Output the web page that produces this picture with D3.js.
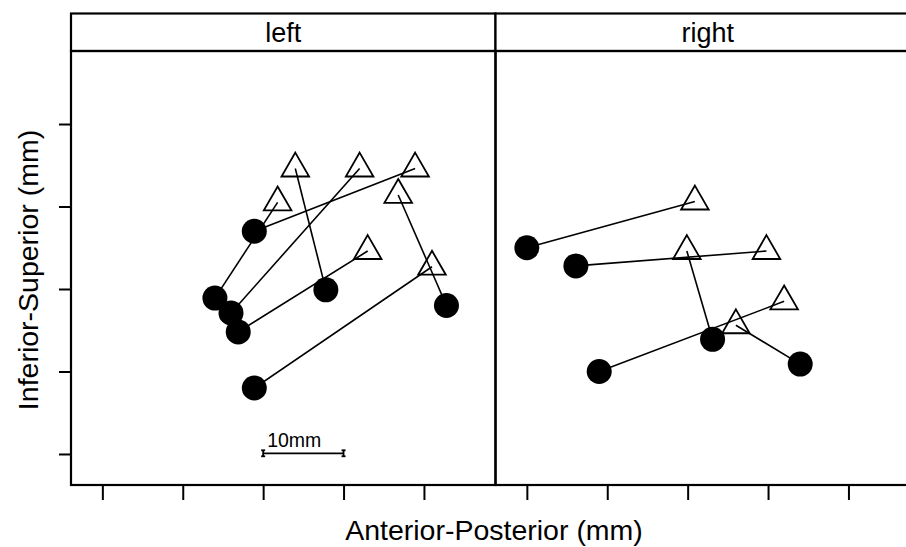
<!DOCTYPE html>
<html>
<head>
<meta charset="utf-8">
<script src="https://cdn.jsdelivr.net/npm/d3@7"></script>
<style>
  body { margin: 0; background: #fff; }
  svg { display: block; font-family: "Liberation Sans", Arial, sans-serif; }
</style>
</head>
<body>
<svg id="chart"></svg>
<script>
// panels
const sides = ["left", "right"];

// start points (filled circles), mm
const leftStartAP = [18.9, 14.0, 16.0, 16.9, 27.8, 42.8, 18.9];
const leftStartIS = [27.0, 18.9, 17.1, 14.8, 19.9, 18.0, 8.0];
// end points (open triangles), mm
const leftEndAP = [38.9, 21.8, 32.0, 33.0, 24.0, 36.8, 41.0];
const leftEndIS = [34.6, 30.5, 34.6, 24.6, 34.6, 31.4, 22.7];

const rightStartAP = [0.0, 6.1, 9.0, 23.1, 34.0];
const rightStartIS = [25.0, 22.8, 10.0, 13.9, 10.9];
const rightEndAP = [20.9, 29.8, 32.0, 19.9, 26.0];
const rightEndIS = [30.6, 24.6, 18.5, 24.6, 15.6];

const xTicks = [0, 10, 20, 30, 40];
const yTicks = [0, 10, 20, 30, 40];

const svgWidth = 906, svgHeight = 547;
const panelLeft = 71, panelW = 424.5;
const stripTop = 13.5, panelTop = 51, panelBottom = 485;

const svg = d3.select("#chart")
  .attr("width", svgWidth)
  .attr("height", svgHeight);

const xScale = d3.scaleLinear().domain([-3.9, 48.9]).range([0, panelW]);
const yScale = d3.scaleLinear().domain([-3.76, 48.85]).range([panelBottom, panelTop]);

const tri = d3.symbol().type(d3.symbolTriangle).size(330);

const panelData = {
  left: { sx: leftStartAP, sy: leftStartIS, ex: leftEndAP, ey: leftEndIS },
  right: { sx: rightStartAP, sy: rightStartIS, ex: rightEndAP, ey: rightEndIS }
};

sides.forEach((side, i) => {
  const x0 = panelLeft + i * panelW;
  const g = svg.append("g").attr("transform", `translate(${x0},0)`);
  const d = panelData[side];
  const pairs = d.sx.map((v, k) => ({ x1: v, y1: d.sy[k], x2: d.ex[k], y2: d.ey[k] }));

  // strip
  g.append("rect")
    .attr("x", 0).attr("y", stripTop)
    .attr("width", panelW).attr("height", panelTop - stripTop)
    .attr("fill", "#fff").attr("stroke", "#000").attr("stroke-width", 2.2);
  g.append("text")
    .attr("x", panelW / 2).attr("y", 42)
    .attr("text-anchor", "middle")
    .style("font-size", "27px")
    .text(side);

  // panel box
  g.append("rect")
    .attr("x", 0).attr("y", panelTop)
    .attr("width", panelW).attr("height", panelBottom - panelTop)
    .attr("fill", "none").attr("stroke", "#000").attr("stroke-width", 2.2);

  // x ticks
  g.append("g")
    .attr("transform", `translate(0,${panelBottom})`)
    .call(d3.axisBottom(xScale).tickValues(xTicks).tickSize(15).tickFormat(""))
    .call(a => a.select(".domain").remove())
    .call(a => a.selectAll("line").attr("stroke-width", 2));

  g.selectAll(".seg")
    .data(pairs)
    .enter().append("line")
    .attr("x1", p => xScale(p.x1)).attr("y1", p => yScale(p.y1))
    .attr("x2", p => xScale(p.x2)).attr("y2", p => yScale(p.y2))
    .attr("stroke", "#000").attr("stroke-width", 1.6);

  g.selectAll(".start")
    .data(pairs)
    .enter().append("circle")
    .attr("cx", p => xScale(p.x1)).attr("cy", p => yScale(p.y1))
    .attr("r", 12.5)
    .attr("fill", "#000");

  g.selectAll(".end")
    .data(pairs)
    .enter().append("path")
    .attr("d", tri)
    .attr("transform", p => `translate(${xScale(p.x2)},${yScale(p.y2)})`)
    .attr("fill", "none").attr("stroke", "#000").attr("stroke-width", 1.8);

  // y ticks only on the first panel
  if (i === 0) {
    g.append("g")
      .call(d3.axisLeft(yScale).tickValues(yTicks).tickSize(12).tickFormat(""))
      .call(a => a.select(".domain").remove())
      .call(a => a.selectAll("line").attr("stroke-width", 2));

    // 10mm scale bar
    const bx1 = xScale(20), bx2 = xScale(30), by = yScale(0) - 0.7;
    const bar = g.append("g").attr("stroke", "#000").attr("stroke-width", 1.8);
    bar.append("line").attr("x1", bx1).attr("x2", bx2).attr("y1", by).attr("y2", by);
    [bx1, bx2].forEach(bx => {
      bar.append("line").attr("x1", bx).attr("x2", bx).attr("y1", by - 3).attr("y2", by + 3);
      bar.append("line").attr("x1", bx - 2).attr("x2", bx + 2).attr("y1", by - 3).attr("y2", by - 3);
      bar.append("line").attr("x1", bx - 2).attr("x2", bx + 2).attr("y1", by + 3).attr("y2", by + 3);
    });
    g.append("text")
      .attr("x", bx1 + 4).attr("y", by - 6)
      .style("font-size", "19.5px")
      .text("10mm");
  }
});

// axis titles
svg.append("text")
  .attr("x", 494).attr("y", 540)
  .attr("text-anchor", "middle")
  .style("font-size", "28.5px")
  .text("Anterior-Posterior (mm)");

svg.append("text")
  .attr("transform", "rotate(-90)")
  .attr("x", -270).attr("y", 38)
  .attr("text-anchor", "middle")
  .style("font-size", "28.5px")
  .text("Inferior-Superior (mm)");
</script>
</body>
</html>
